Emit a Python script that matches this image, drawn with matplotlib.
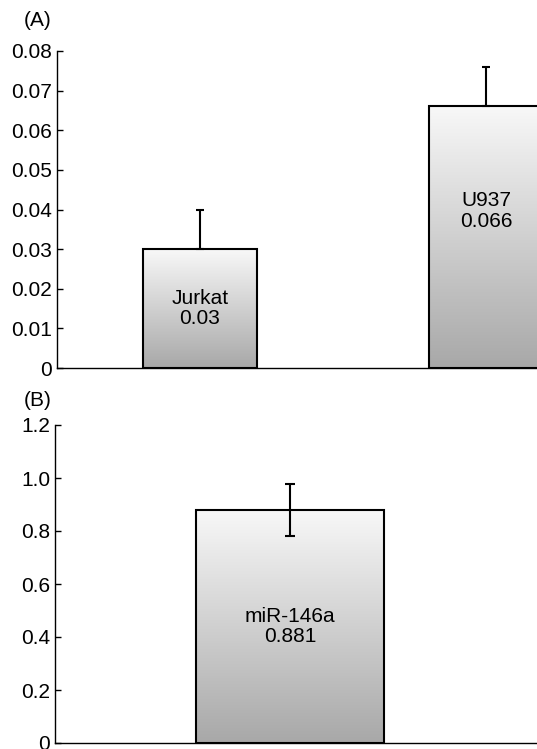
import matplotlib
matplotlib.use('Agg')
import matplotlib.pyplot as plt
import numpy as np
from matplotlib.colors import LinearSegmentedColormap

plt.rcParams['font.family'] = ['Liberation Sans', 'DejaVu Sans']

# panel A data
cells = ['Jurkat', 'U937']
cell_vals = [0.030, 0.066]
cell_err = [0.010, 0.010]
a_ticks = [0, 0.01, 0.02, 0.03, 0.04, 0.05, 0.06, 0.07, 0.08]
a_ticklabels = ['0', '0.01', '0.02', '0.03', '0.04', '0.05', '0.06', '0.07', '0.08']

# panel B data
mirs = ['miR-146a']
mir_vals = [0.881]
mir_err = [0.098]
b_ticks = [0, 0.2, 0.4, 0.6, 0.8, 1.0, 1.2]
b_ticklabels = ['0', '0.2', '0.4', '0.6', '0.8', '1.0', '1.2']

grad = LinearSegmentedColormap.from_list('g', ['#a8a8a8', '#f8f8f8'])


def gradient_bars(ax, bars):
    for bar in bars:
        x0 = bar.get_x()
        w = bar.get_width()
        h = bar.get_height()
        img = ax.imshow(np.linspace(0, 1, 256).reshape(-1, 1), cmap=grad,
                        extent=(x0, x0 + w, 0, h), origin='lower',
                        aspect='auto', zorder=1)
        img.set_clip_path(bar)
        bar.set_facecolor('none')
        bar.set_zorder(2)


def style_axis(ax, ticks, ticklabels):
    ax.spines['top'].set_visible(False)
    ax.spines['right'].set_visible(False)
    ax.spines['left'].set_linewidth(1.0)
    ax.spines['bottom'].set_linewidth(1.0)
    ax.set_yticks(ticks)
    ax.set_yticklabels(ticklabels)
    ax.set_xticks([])
    ax.tick_params(axis='y', direction='in', length=4, width=1.0,
                   labelsize=15, pad=3.5)


fig = plt.figure(figsize=(5.37, 7.49), dpi=100)

# (A)
W, H = 537.0, 749.0
axA = fig.add_axes([57 / W, (H - 368) / H, 572 / W, (368 - 51) / H])
xa = np.arange(1, len(cells) + 1)
barsA = axA.bar(xa, cell_vals, 0.40, edgecolor='black', linewidth=1.5)
axA.errorbar(xa, cell_vals, yerr=[[0] * len(cells), cell_err], fmt='none',
             ecolor='black', elinewidth=1.5, capsize=3, capthick=1.5, zorder=3)
gradient_bars(axA, barsA)
axA.set_xlim(0.5, 2.5)
axA.set_ylim(0, 0.08)
style_axis(axA, a_ticks, a_ticklabels)
label_pos_a = [0.5, 0.6]
for x, name, v, f in zip(xa, cells, cell_vals, label_pos_a):
    axA.text(x, v * f, name + '\n' + str(v), ha='center', va='center',
             fontsize=15, linespacing=1.1, zorder=4)
fig.text(24 / W, 1 - 20 / H, '(A)', fontsize=15, va='center', ha='left')

# (B)
axB = fig.add_axes([55 / W, (H - 743) / H, 482 / W, (743 - 425) / H])
xb = np.arange(1, len(mirs) + 1)
barsB = axB.bar(xb, mir_vals, 0.80, edgecolor='black', linewidth=1.5)
axB.errorbar(xb, mir_vals, yerr=mir_err, fmt='none', ecolor='black',
             elinewidth=1.5, capsize=3.5, capthick=1.5, zorder=3)
gradient_bars(axB, barsB)
axB.set_xlim(0, 2.05)
axB.set_ylim(0, 1.2)
style_axis(axB, b_ticks, b_ticklabels)
for x, name, v in zip(xb, mirs, mir_vals):
    axB.text(x, v * 0.5, name + '\n' + str(v), ha='center', va='center',
             fontsize=15, linespacing=1.1, zorder=4)
fig.text(24 / W, 1 - 400 / H, '(B)', fontsize=15, va='center', ha='left')

fig.savefig('out.png', dpi=100)
